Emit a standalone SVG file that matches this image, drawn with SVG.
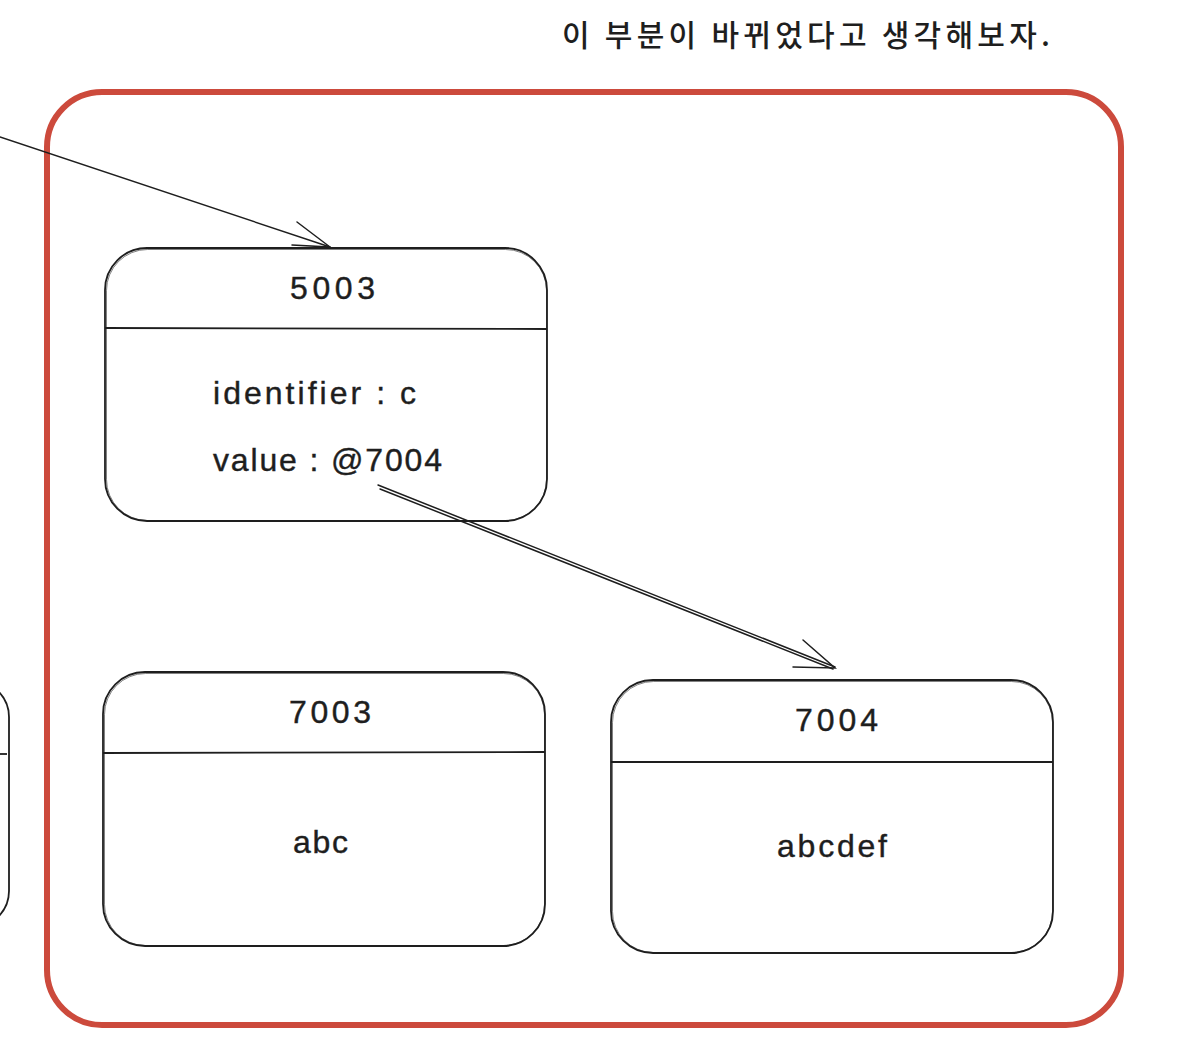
<svg xmlns="http://www.w3.org/2000/svg" width="1196" height="1064" viewBox="0 0 1196 1064">
<style>
.box{fill:none;stroke:#1e1e1e;stroke-width:1.8}
.box2{fill:none;stroke:#1e1e1e;stroke-width:0.8;opacity:0.7}
.div{stroke:#1e1e1e;stroke-width:1.8}
.t{font-family:"Liberation Sans","Noto Sans",sans-serif;fill:#1e1e1e;font-size:32px;stroke:#1e1e1e;stroke-width:0.4}
.c{text-anchor:middle}
.ko{font-family:"Noto Sans CJK KR","Noto Sans",sans-serif;fill:#1e1e1e;font-size:30px;font-weight:500}
.arr{fill:none;stroke:#1e1e1e;stroke-width:1.5;stroke-linecap:round}
</style>
<rect width="1196" height="1064" fill="#ffffff"/>
<text id="caption" class="ko" x="562" y="46" textLength="488" lengthAdjust="spacing">이 부분이 바뀌었다고 생각해보자.</text>
<g id="frame">
<rect x="47" y="92" width="1074" height="933" rx="55" ry="55" fill="none" stroke="#cc4a3c" stroke-width="6"/>
</g>
<g id="node-left">
<rect class="box" x="-440" y="681" width="449" height="246" rx="36"/>
<line class="div" x1="0" y1="754" x2="7" y2="754"/>
</g>
<g id="node-5003">
<rect class="box" x="105" y="248" width="442" height="273" rx="42"/>
<rect class="box2" x="106.5" y="249.5" width="440" height="271" rx="41"/>
<line class="div" x1="105" y1="328" x2="547" y2="329"/>
<text class="t" x="290" y="299" textLength="85" lengthAdjust="spacing">5003</text>
<text class="t" x="213" y="404" textLength="203" lengthAdjust="spacing">identifier : c</text>
<text class="t" x="213" y="471" textLength="229" lengthAdjust="spacing">value : @7004</text>
</g>
<g id="node-7003">
<rect class="box" x="103" y="672" width="442" height="274" rx="42"/>
<rect class="box2" x="104.5" y="673.5" width="440" height="272" rx="41"/>
<line class="div" x1="103" y1="753" x2="545" y2="752"/>
<text class="t" x="289" y="723" textLength="82" lengthAdjust="spacing">7003</text>
<text class="t" x="293" y="853" textLength="55" lengthAdjust="spacing">abc</text>
</g>
<g id="node-7004">
<rect class="box" x="611" y="680" width="442" height="273" rx="42"/>
<rect class="box2" x="612.5" y="681.5" width="440" height="271" rx="41"/>
<line class="div" x1="611" y1="762" x2="1053" y2="762"/>
<text class="t" x="795" y="731" textLength="83" lengthAdjust="spacing">7004</text>
<text class="t" x="777" y="857" textLength="110" lengthAdjust="spacing">abcdef</text>
</g>
<g id="connectors">
<path class="arr" d="M0 137 L330 247" stroke-width="2.2"/>
<path class="arr" d="M297 222 L330 247 L292 245"/>
<path class="arr" d="M378 485 L835 667"/>
<path class="arr" d="M380 489 L833 669"/>
<path class="arr" d="M803 640 L835 668 L793 667"/>
</g>
</svg>
